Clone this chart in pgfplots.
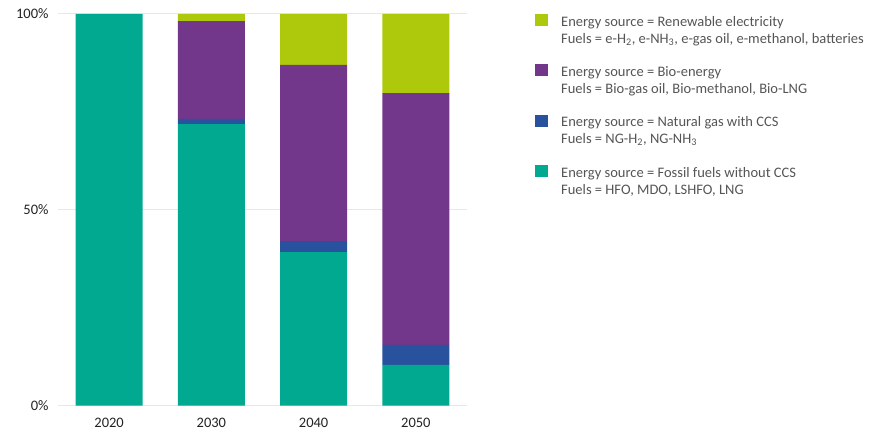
\documentclass[border=0pt]{standalone}
\usepackage{fontspec}
\setmainfont{Carlito}
\usepackage{pgfplots}
\usepackage{pgfplotstable}
\pgfplotsset{compat=1.18}

\definecolor{renew}{HTML}{AEC90B}
\definecolor{bio}{HTML}{72378A}
\definecolor{ngccs}{HTML}{28529E}
\definecolor{fossil}{HTML}{00A990}
\definecolor{gridc}{HTML}{E8E8E8}
\definecolor{ticktext}{HTML}{222222}
\definecolor{legtext}{HTML}{555555}

% shares in percent, categories 2020 2030 2040 2050 at x = 0..3
\pgfplotstableread{
x fossil ng bio renew
0 100  0   0    0
1 71.9 1.3 25.0 1.8
2 39.2 2.8 45.0 13.0
3 10.4 5.1 64.3 20.2
}\sharetable

\pgfplotsset{sqleg/.style={legend image code/.code={\fill[##1,draw=none] (0pt,0pt) rectangle (12.5pt,12pt);}}}

\begin{document}
\begin{tikzpicture}
\begin{axis}[
  scale only axis,
  width=409pt, height=391.7pt,
  ybar stacked,
  bar width=67pt,
  xmin=-0.5, xmax=3.5,
  ymin=0, ymax=100,
  xtick=data,
  xticklabels={2020,2030,2040,2050},
  ytick={0,50,100},
  yticklabel={\pgfmathprintnumber{\tick}\%},
  /pgf/number format/assume math mode=true,
  ymajorgrids,
  grid style={gridc, line width=1pt},
  axis line style={draw=none},
  tick style={draw=none},
  ticklabel style={font=\fontsize{14.5}{16}\selectfont, text=ticktext},
  xticklabel style={yshift=-9pt},
  yticklabel style={xshift=-6pt},
  reverse legend,
  legend style={at={(1,1)}, anchor=north west, xshift=68pt,
    draw=none, fill=none, inner sep=0pt, row sep=36.8pt, column sep=13.5pt,
    font=\fontsize{14.5}{17}\selectfont, text=legtext,
    cells={anchor=base west}, nodes={inner sep=0pt}},
]
\addplot[fill=fossil, draw=none, sqleg] table[x=x, y=fossil] {\sharetable};
\addlegendentry{\begin{tabular}[t]{@{}l@{}}Energy source = Fossil fuels without CCS\\Fuels = HFO, MDO, LSHFO, LNG\end{tabular}}
\addplot[fill=ngccs, draw=none, sqleg] table[x=x, y=ng] {\sharetable};
\addlegendentry{\begin{tabular}[t]{@{}l@{}}Energy source = Natural gas with CCS\\Fuels = NG-H\textsubscript{2}, NG-NH\textsubscript{3}\end{tabular}}
\addplot[fill=bio, draw=none, sqleg] table[x=x, y=bio] {\sharetable};
\addlegendentry{\begin{tabular}[t]{@{}l@{}}Energy source = Bio-energy\\Fuels = Bio-gas oil, Bio-methanol, Bio-LNG\end{tabular}}
\addplot[fill=renew, draw=none, sqleg] table[x=x, y=renew] {\sharetable};
\addlegendentry{\begin{tabular}[t]{@{}l@{}}Energy source = Renewable electricity\\Fuels = e-H\textsubscript{2}, e-NH\textsubscript{3}, e-gas oil, e-methanol, batteries\end{tabular}}
\end{axis}
\pgfresetboundingbox
\path (current axis.south west) ++(-58pt,-27.3pt) rectangle ++(870pt,433pt);
\end{tikzpicture}
\end{document}
